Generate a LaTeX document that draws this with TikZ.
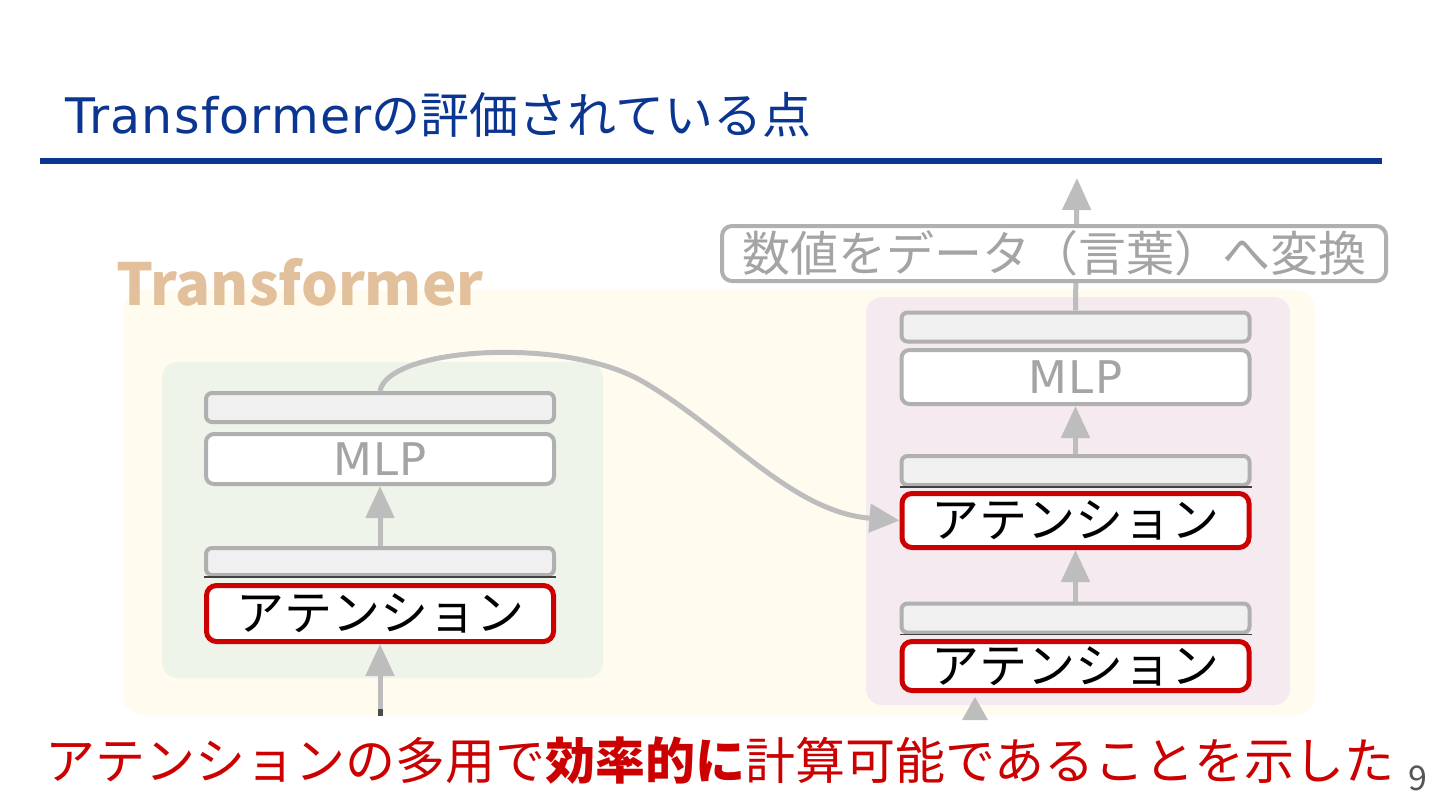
\documentclass[tikz,border=0pt]{standalone}
\usepackage{fontspec}
\setmainfont{Noto Sans CJK JP}
\newfontfamily\latn{DejaVu Sans}[LetterSpace=2.5]
\usetikzlibrary{arrows.meta}
\definecolor{titleblue}{HTML}{0A3590}
\definecolor{tan}{HTML}{E2C09C}
\definecolor{yel}{HTML}{FFFCEF}
\definecolor{grn}{HTML}{EEF4E9}
\definecolor{pnk}{HTML}{F5EAEF}
\definecolor{boxgray}{HTML}{B0B0B0}
\definecolor{barfill}{HTML}{F0F0F0}
\definecolor{mlpgray}{HTML}{A4A4A4}
\definecolor{attred}{HTML}{CC0000}
\definecolor{arrgray}{HTML}{BDBDBD}
\definecolor{pgnum}{HTML}{555555}
\tikzset{
 bar/.style={draw=boxgray, fill=barfill, line width=2pt, rounded corners=3pt, minimum width=174pt, minimum height=14.5pt, inner sep=0pt},
 mlpbox/.style={draw=boxgray, fill=white, line width=2pt, rounded corners=4pt, minimum width=174pt, inner sep=0pt, text=mlpgray, font=\fontsize{22.5}{22.5}\selectfont\latn},
 attbox/.style={draw=attred, fill=white, line width=2.5pt, rounded corners=5pt, minimum width=173.5pt, inner sep=0pt, text=black, font=\fontsize{24}{24}\selectfont},
 flow/.style={draw=arrgray, line width=2.5pt, -{Triangle[width=14pt,length=16pt,fill=arrgray]}},
 seam/.style={draw=black!75, line width=0.8pt},
}
\begin{document}
\begin{tikzpicture}[x=0.5pt,y=-0.5pt]
\useasboundingbox (0,0) rectangle (1440,810);
\fill[white] (0,0) rectangle (1440,810);
% title
\node[anchor=base west, inner sep=0pt, text=titleblue, font=\fontsize{24.5}{24.5}\selectfont] (title) at (65,133) {{\latn Transformer}の評価されている点};
\draw[titleblue, line width=3pt] (40,161) coordinate (ruleA) -- (1382,161) coordinate (ruleB);
% panels
\fill[yel, rounded corners=10pt] (123,290) rectangle (1315,715);
\fill[grn, rounded corners=8pt] (162,362) rectangle (603,678);
\fill[pnk, rounded corners=8pt] (866,297) rectangle (1290,705);
\node[anchor=base west, inner sep=0pt, text=tan, font=\fontsize{29}{29}\selectfont\bfseries] (tlabel) at (116,305) {Transformer};
% left stack
\node[bar] (lb1) at (380,407.5) {};
\node[mlpbox, minimum height=25pt] (lmlp) at (380,459) {MLP};
\node[bar, minimum height=13.5pt] (lb2) at (380,561.5) {};
\node[attbox, minimum height=28pt] (latt) at (380,613.5) {アテンション};
\draw[seam] (lb2.south west) -- (lb2.south east);
\draw[flow] (lb2.north) -- (lmlp.south);
\coordinate (lin) at (380,716);
\draw[flow] (lin) -- (latt.south);
\draw[black!70, line width=2.5pt] (380,709) -- (lin);
% right stack
\node[bar] (rb1) at (1075.5,327) {};
\node[mlpbox, minimum height=27pt] (rmlp) at (1075.5,377) {MLP};
\node[bar] (rb2) at (1075.5,470.5) {};
\node[attbox, minimum height=27pt] (ratt1) at (1075.5,520.5) {アテンション};
\node[bar] (rb3) at (1075.5,618) {};
\node[attbox, minimum height=24.5pt] (ratt2) at (1075.5,666) {アテンション};
\draw[seam] (rb2.south west) -- (rb2.south east);
\draw[seam] (rb3.south west) -- (rb3.south east);
\draw[flow] (rb2.north) -- (rmlp.south);
\draw[flow] (rb3.north) -- (ratt1.south);
\coordinate (rin) at (975,697);
\fill[arrgray] (rin) -- (962,720) -- (988,720) -- cycle;
% output
\coordinate (outtip) at (1077,178);
\draw[flow] (rb1.north) -- (outtip);
\node[draw=boxgray, fill=white, line width=2pt, rounded corners=5pt, minimum width=332pt, minimum height=27.5pt, inner sep=0pt, text=mlpgray, font=\fontsize{24}{24}\selectfont] (out) at (1054,253.5) {数値をデータ（言葉）へ変換};
% skip connection curve
\draw[draw=arrgray, line width=2.5pt, -{Triangle[width=14pt,length=15pt,fill=arrgray]}] (lb1.north) .. controls (388,348) and (560,336) .. (640,380) .. controls (725,428) and (790,512) .. (ratt1.west);
% bottom message
\node[anchor=base west, inner sep=0pt, text=attred, font=\fontsize{25}{25}\selectfont] (msg) at (45,779) {アテンションの多用で\textbf{効率的に}計算可能であることを示した};
\node[anchor=base west, inner sep=0pt, text=pgnum, font=\fontsize{17}{17}\selectfont] (pg) at (1408,790) {9};
\end{tikzpicture}
\end{document}
